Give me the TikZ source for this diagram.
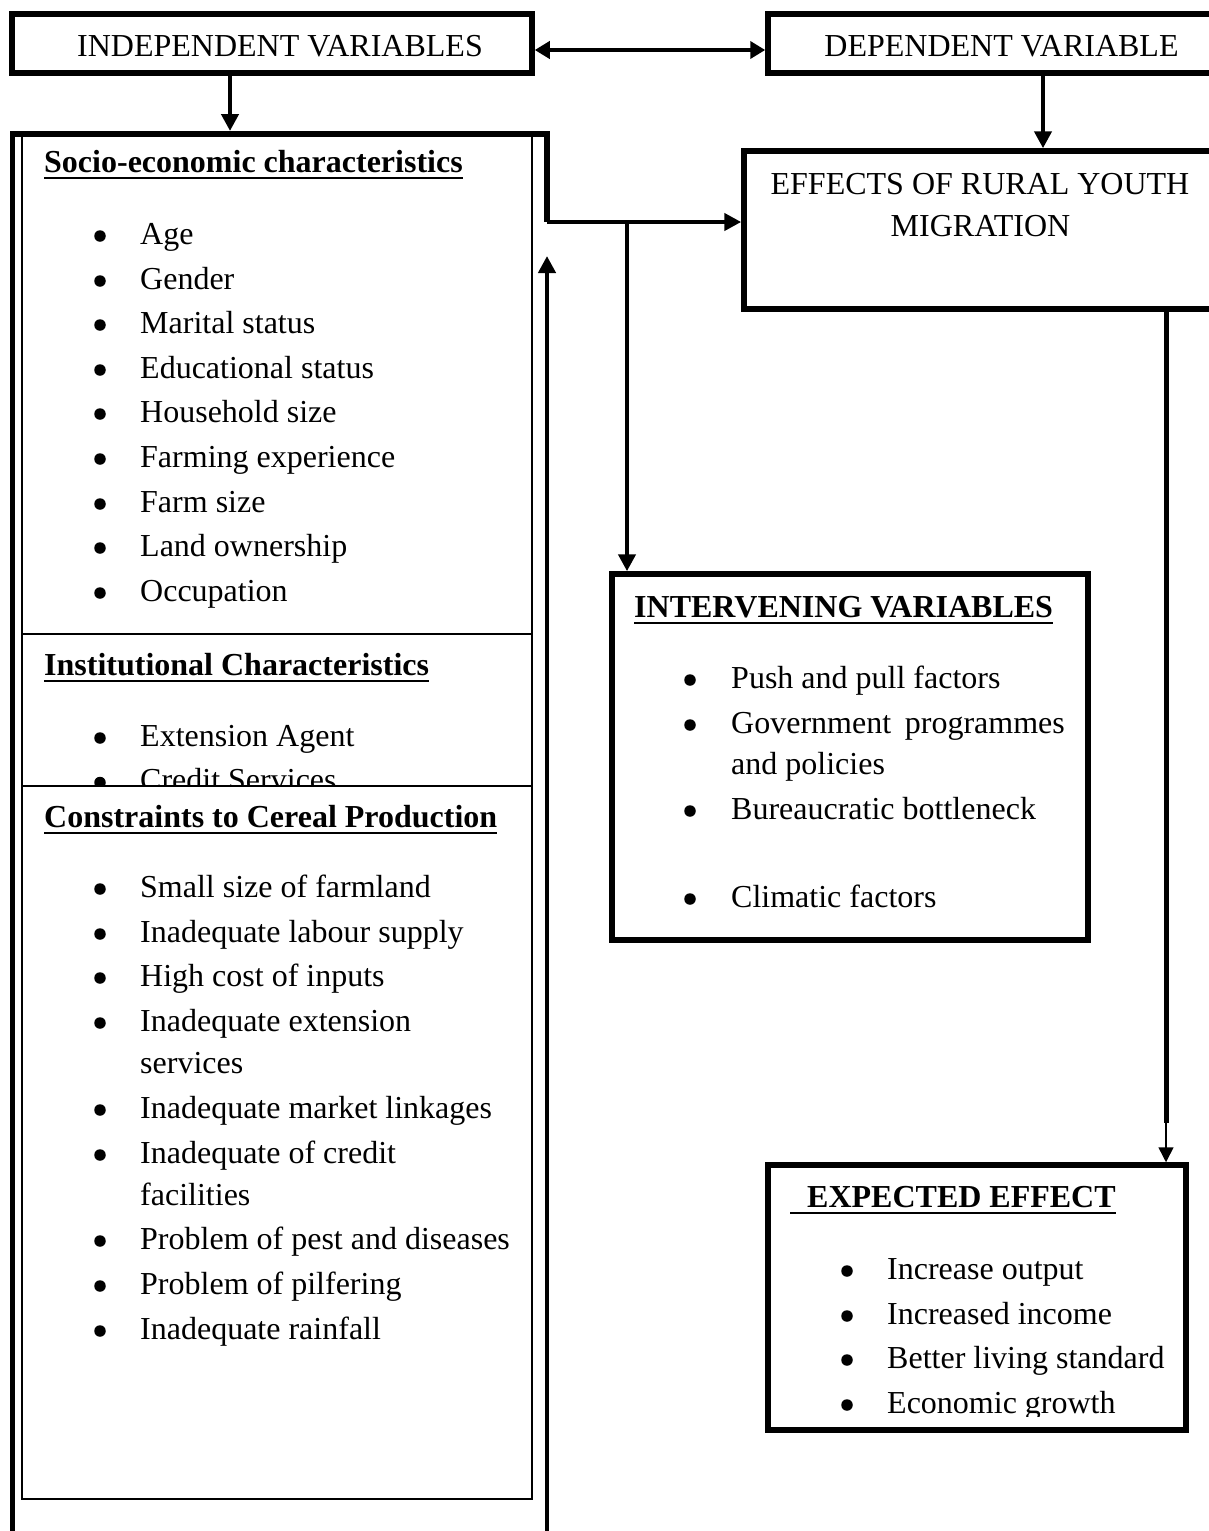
\documentclass[tikz,border=0pt]{standalone}
\usepackage{fontspec}
\setmainfont{Liberation Serif}
\usetikzlibrary{arrows.meta}
\begin{document}
\begin{tikzpicture}[x=1pt,y=-1pt,
  box/.style={draw, line width=5.5pt, rectangle, inner sep=0pt, outer sep=2.75pt},
  thinbox/.style={draw, line width=1.5pt, rectangle, inner sep=0pt, outer sep=0pt},
  txt/.style={anchor=base west, inner sep=0pt, font=\fontsize{32}{38}\selectfont},
  ctxt/.style={anchor=base, inner sep=0pt, font=\fontsize{32}{38}\selectfont},
  btxt/.style={anchor=base west, inner sep=0pt, font=\fontsize{32}{38}\selectfont\bfseries},
  dot/.style={circle, fill, inner sep=0pt, minimum size=11.5pt},
  conn/.style={line width=4.5pt, -{Triangle[length=17pt,width=17pt]}},
  uline/.style={line width=2.5pt}
]
\useasboundingbox (0,0) rectangle (1209,1531);

% ---------- top boxes ----------
\node[box, minimum width=520pt, minimum height=59pt] (indep) at (272,43.5) {};
\node[box, minimum width=447pt, minimum height=59pt] (dep) at (991.5,43.5) {};
\node[ctxt] (indepT) at (280,56) {INDEPENDENT VARIABLES};
\node[ctxt] (depT) at (1001.5,56) {DEPENDENT VARIABLE};
\draw[line width=4.5pt, {Triangle[length=15pt,width=17pt]}-{Triangle[length=15pt,width=17pt]}]
  ([yshift=-6.5pt]indep.east) -- ([yshift=-6.5pt]dep.west);

% ---------- effects box ----------
\node[box, minimum width=471pt, minimum height=158pt] (eff) at (979.5,230) {};
\node[ctxt] (effT1) at (980,194) {EFFECTS OF RURAL YOUTH};
\node[ctxt] (effT2) at (980.5,236) {MIGRATION};

% ---------- intervening box ----------
\node[box, minimum width=476pt, minimum height=366pt] (inter) at (850,757) {};
\node[btxt] (interT) at (634,617) {INTERVENING VARIABLES};
\draw[uline] ([yshift=-6pt]interT.base west) -- ([yshift=-6pt]interT.base east);
\foreach \y/\t [count=\i] in {688/Push and pull factors, 733/Government, 819/Bureaucratic bottleneck, 907/Climatic factors}{
  \node[dot] (ib\i) at (690,\y-8) {};
  \node[txt] (it\i) at (731,\y) {\t};
}
\node[anchor=base east, inner sep=0pt, font=\fontsize{32}{38}\selectfont] (itprog) at (1065,733) {programmes};
\node[txt] (itpol) at (731,774) {and policies};

% ---------- expected effect box ----------
\node[box, minimum width=418pt, minimum height=265pt] (exp) at (977,1297.5) {};
\node[btxt] (expT) at (807,1207) {EXPECTED EFFECT};
\coordinate (expU) at (790,1213);
\draw[uline] (expU) -- (expU -| expT.base east);
\begin{scope}
\clip (770,1168) rectangle (1184,1416);
\foreach \y/\t [count=\i] in {1279/Increase output, 1324/Increased income, 1368/Better living standard, 1413/Economic growth}{
  \node[dot] (eb\i) at (847,\y-8) {};
  \node[txt] (et\i) at (887,\y) {\t};
}
\end{scope}

% ---------- left big block ----------
\node[thinbox, minimum width=510pt, minimum height=1363pt] (inner) at (277,817.5) {};
\draw[line width=1.5pt] (inner.west |- 0,634) coordinate (divL) -- (inner.east |- 0,634) coordinate (divR);

\node[btxt] (socT) at (44,172) {Socio-economic characteristics};
\draw[uline] ([yshift=-6pt]socT.base west) -- ([yshift=-6pt]socT.base east);
\foreach \y/\t [count=\i] in {244/Age, 289/Gender, 333/Marital status, 378/Educational status, 422/Household size, 467/Farming experience, 512/Farm size, 556/Land ownership, 601/Occupation}{
  \node[dot] (sb\i) at (100,\y-8) {};
  \node[txt] (st\i) at (140,\y) {\t};
}

\node[btxt] (insT) at (44,675) {Institutional Characteristics};
\draw[uline] ([yshift=-6pt]insT.base west) -- ([yshift=-6pt]insT.base east);
\foreach \y/\t [count=\i] in {746/Extension Agent, 790.5/Credit Services}{
  \node[dot] (nb\i) at (100,\y-8) {};
  \node[txt] (nt\i) at (140,\y) {\t};
}

\node[thinbox, fill=white, line width=2.5pt, minimum width=510pt, minimum height=713pt] (cons) at (277,1142.5) {};
\node[btxt] (conT) at (44,827) {Constraints to Cereal Production};
\draw[uline] ([yshift=-6pt]conT.base west) -- ([yshift=-6pt]conT.base east);
\foreach \y/\t [count=\i] in {897/Small size of farmland, 942/Inadequate labour supply, 986/High cost of inputs, 1031/Inadequate extension, 1118/Inadequate market linkages, 1163/Inadequate of credit, 1249/Problem of pest and diseases, 1294/Problem of pilfering, 1339/Inadequate rainfall}{
  \node[dot] (cb\i) at (100,\y-8) {};
  \node[txt] (ct\i) at (140,\y) {\t};
}
\node[txt] (ctserv) at (140,1073) {services};
\node[txt] (ctfac) at (140,1205) {facilities};

% ---------- outer frame and connectors ----------
\coordinate (frBL) at (12.5,1545);
\coordinate (frTL) at (12.5,134);
\coordinate (frTR) at (547,134);
\coordinate (fr) at (547,222);
\draw[line width=5.5pt] (frBL) -- (frTL) -- (frTR) -- (fr);
\draw[conn] (fr) -- (fr -| eff.west);
\coordinate (br) at (627,222);
\draw[conn] (br) -- (br |- inter.north);
\coordinate (upB) at (547,1545);
\coordinate (upT) at (547,256);
\draw[conn] (upB) -- (upT);

\coordinate (frtop) at (230,131);
\draw[conn] (indep.south -| frtop) -- (frtop);
\coordinate (dx) at (1043,0);
\draw[conn] (dep.south -| dx) -- (eff.north -| dx);

\coordinate (ex) at (1166,1123);
\draw[line width=5pt] (eff.south -| ex) -- (ex);
\draw[line width=1.5pt, -{Triangle[length=15pt,width=15pt]}] (ex) -- (ex |- exp.north);
\end{tikzpicture}
\end{document}
